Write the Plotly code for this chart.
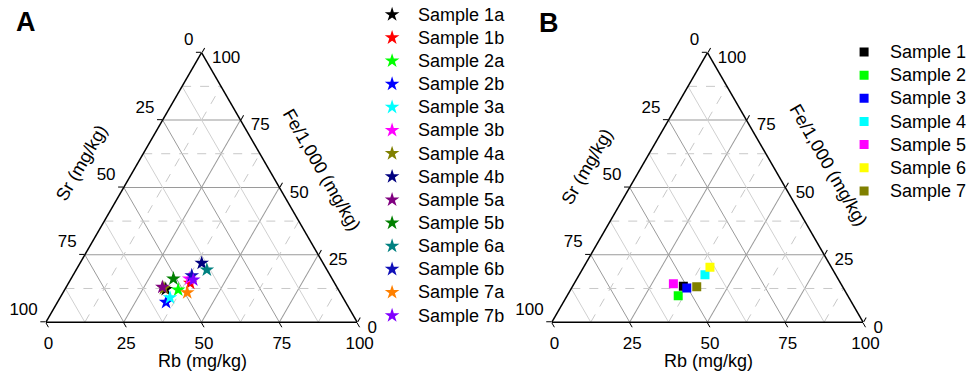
import plotly.graph_objects as go

# ---------------- data ----------------
# Panel A (ternary: Fe/1,000 = a (top), Sr = b (bottom-left), Rb = c (bottom-right))
samples_a = ["Sample 1a", "Sample 1b", "Sample 2a", "Sample 2b", "Sample 3a", "Sample 3b", "Sample 4a",
             "Sample 4b", "Sample 5a", "Sample 5b", "Sample 6a", "Sample 6b", "Sample 7a", "Sample 7b"]
fe_a = [12.2, 14.5, 12.0, 7.4, 9.1, 16.1, 12.6, 21.9, 13.0, 16.1, 19.4, 17.3, 11.0, 15.7]
rb_a = [32.4, 39.1, 36.5, 34.9, 35.3, 38.0, 31.6, 39.1, 30.9, 32.9, 42.0, 38.2, 39.9, 39.5]
sr_a = [55.4, 46.4, 51.5, 57.7, 55.6, 45.9, 55.8, 39.0, 56.1, 51.0, 38.6, 44.5, 49.1, 44.8]
colors_a = ["#000000", "#ff0000", "#00ff00", "#0000ff", "#00ffff", "#ff00ff", "#808000",
            "#000080", "#800080", "#008000", "#008080", "#1010b8", "#ff8000", "#8000ff"]

# Panel B
samples_b = ["Sample 1", "Sample 2", "Sample 3", "Sample 4", "Sample 5", "Sample 6", "Sample 7"]
fe_b = [13.3, 9.8, 12.7, 17.6, 14.3, 20.4, 13.1]
rb_b = [35.6, 35.7, 37.0, 40.4, 31.9, 40.6, 40.0]
sr_b = [51.1, 54.5, 50.3, 42.0, 53.8, 39.0, 46.9]
colors_b = ["#000000", "#00ff00", "#0000ff", "#00ffff", "#ff00ff", "#ffff00", "#808000"]

major_ticks = [0, 25, 50, 75, 100]
major_text_rev = ["100", "75", "50", "25", "0"]
minor_levels = [12.5, 37.5, 62.5, 87.5]

FONT = "Arial, Liberation Sans, sans-serif"
W, H = 969, 373
NB = "\u00a0"

fig = go.Figure()


def add_minor(subplot):
    for m in minor_levels:
        r = 100 - m
        # constant Fe (horizontal) - dashed
        fig.add_trace(go.Scatterternary(a=[m, m], b=[r, 0], c=[0, r], mode="lines",
                                        line=dict(color="#c8c8c8", width=1, dash="dash"),
                                        showlegend=False, hoverinfo="skip", subplot=subplot))
        # constant Rb (parallel to left edge) - dashed
        fig.add_trace(go.Scatterternary(a=[0, r], b=[r, 0], c=[m, m], mode="lines",
                                        line=dict(color="#c8c8c8", width=1, dash="dash"),
                                        showlegend=False, hoverinfo="skip", subplot=subplot))
        # constant Sr (parallel to right edge) - solid light
        fig.add_trace(go.Scatterternary(a=[0, r], b=[m, m], c=[r, 0], mode="lines",
                                        line=dict(color="#d0d0d0", width=1),
                                        showlegend=False, hoverinfo="skip", subplot=subplot))


add_minor("ternary")
add_minor("ternary2")

for i, name in enumerate(samples_a):
    fig.add_trace(go.Scatterternary(
        a=[fe_a[i]], b=[sr_a[i]], c=[rb_a[i]], mode="markers",
        name='<span style="font-size:18px">' + name + '</span>',
        marker=dict(symbol="star", size=11, color=colors_a[i], line=dict(width=0)),
        subplot="ternary", legend="legend"))

for i, name in enumerate(samples_b):
    fig.add_trace(go.Scatterternary(
        a=[fe_b[i]], b=[sr_b[i]], c=[rb_b[i]], mode="markers",
        name='<span style="font-size:18px">' + name + '</span>',
        marker=dict(symbol="square", size=9, color=colors_b[i], line=dict(width=0)),
        subplot="ternary2", legend="legend2"))


def axis(texts):
    return dict(
        tickmode="array", tickvals=major_ticks, ticktext=texts,
        ticks="outside", ticklen=5, tickwidth=1, tickcolor="black",
        tickfont=dict(family=FONT, size=17, color="black"),
        showline=True, linecolor="black", linewidth=1.5,
        showgrid=True, gridcolor="#9a9a9a", gridwidth=1,
        title=dict(text=""), min=0,
    )


# Sr labels (left edge) sit a little above their ticks; Fe labels (right edge) a little below/right
a_text = [t + "<br>" + NB for t in major_text_rev]
b_text = list(major_text_rev)
c_text = [NB + "<br>" + NB + t for t in major_text_rev]


def tern(xd):
    return dict(sum=100, bgcolor="white",
                domain=dict(x=xd, y=[0.1363, 0.8588]),
                aaxis=axis(a_text), baxis=axis(b_text), caxis=axis(c_text))


fig.update_layout(
    width=W, height=H,
    margin=dict(l=0, r=0, t=0, b=0, autoexpand=False),
    paper_bgcolor="white",
    font=dict(family=FONT, color="black"),
    ternary=tern([0.0430, 0.3730]),
    ternary2=tern([0.5651, 0.8951]),
    legend=dict(x=0.3778, y=1.0054, xanchor="left", yanchor="top", itemwidth=42, maxheight=400,
                font=dict(family=FONT, size=15.5, color="black"), bgcolor="rgba(0,0,0,0)"),
    legend2=dict(x=0.8649, y=0.905, xanchor="left", yanchor="top", itemwidth=42, maxheight=400,
                 font=dict(family=FONT, size=15.5, color="black"), bgcolor="rgba(0,0,0,0)"),
    showlegend=True,
)


def px(x, y):
    return x / W, 1 - y / H


annots = [
    ("<b>A</b>", 25.5, 21.5, 0, 27),
    ("<b>B</b>", 548.7, 22.5, 0, 27),
    ("Sr (mg/kg)", 81.7, 163.3, -60, 18),
    ("Fe/1,000 (mg/kg)", 321.7, 170.0, 60, 18),
    ("Rb (mg/kg)", 202.0, 361.0, 0, 18),
    ("Sr (mg/kg)", 586.7, 166.7, -60, 18),
    ("Fe/1,000 (mg/kg)", 828.3, 165.0, 60, 18),
    ("Rb (mg/kg)", 708.0, 361.0, 0, 18),
]
for text, x, y, ang, size in annots:
    ax_, ay_ = px(x, y)
    fig.add_annotation(text=text, x=ax_, y=ay_, xref="paper", yref="paper",
                       xanchor="center", yanchor="middle", showarrow=False,
                       textangle=ang, font=dict(family=FONT, size=size, color="black"))

fig.write_html("out.html", config={"displayModeBar": False},
               post_script="document.body.style.margin='0';document.body.style.padding='0';")
